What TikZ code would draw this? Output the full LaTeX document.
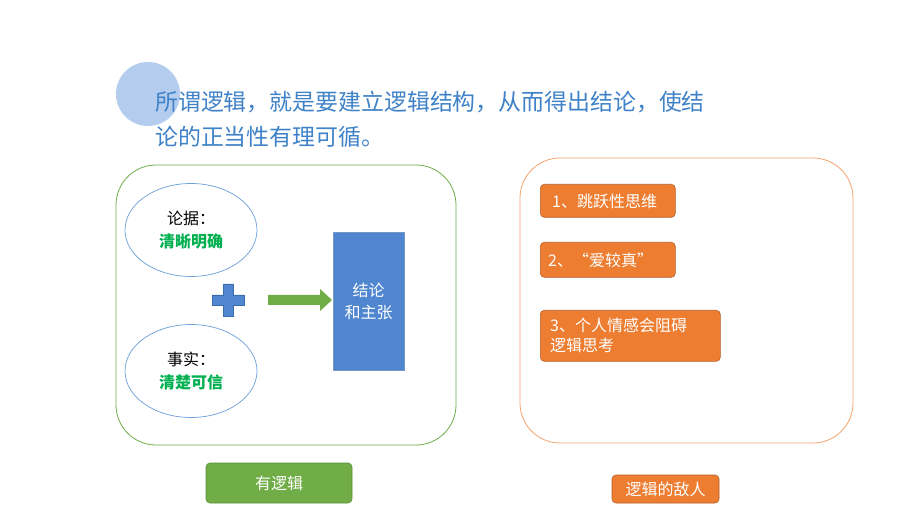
\documentclass[tikz,border=0pt]{standalone}
\usepackage{fontspec}
\setmainfont{Noto Sans CJK SC}
\usetikzlibrary{shapes.geometric,arrows.meta}
\definecolor{titleblue}{HTML}{3F82C8}
\definecolor{circblue}{HTML}{B4CDEE}
\definecolor{lgreen}{HTML}{70AD47}
\definecolor{tgreen}{HTML}{00B050}
\definecolor{eblue}{HTML}{6A9FD8}
\definecolor{rblue}{HTML}{4F86CF}
\definecolor{rbluedark}{HTML}{3A6CB0}
\definecolor{lorange}{HTML}{F4A46E}
\definecolor{forange}{HTML}{ED7D31}
\definecolor{dorange}{HTML}{B5602A}
\definecolor{dgreen}{HTML}{5A8E37}
\tikzset{
  oval/.style={draw=eblue, line width=0.7pt, ellipse, minimum width=132pt, minimum height=93pt, align=center, font=\fontsize{16}{23}\selectfont},
  obox/.style={draw=dorange, fill=forange, rounded corners=4pt, line width=0.6pt, text=white, font=\fontsize{16}{21}\selectfont, inner sep=0pt},
  otext/.style={anchor=west, text=white, font=\fontsize{16}{21}\selectfont, inner sep=0pt, align=left},
  frame/.style={rounded corners=40pt, line width=0.8pt},
}
\begin{document}
\begin{tikzpicture}[x=1pt,y=-1pt]
\useasboundingbox (0,0) rectangle (920,518);
\fill[white] (0,0) rectangle (920,518);
% decorative circle
\fill[circblue] (148,94) circle (32);
% title
\node[anchor=west, text=titleblue, font=\fontsize{22.9}{35}\selectfont, align=left, inner sep=0pt] (title) at (155,119)
 {所谓逻辑，就是要建立逻辑结构，从而得出结论，使结\\论的正当性有理可循。};
% left frame
\draw[frame, draw=lgreen] (116,165) rectangle (456,445);
\node[oval] (e1) at (191,230) {论据：\\\textcolor{tgreen}{\bfseries 清晰明确}};
\node[oval] (e2) at (191,371) {事实：\\\textcolor{tgreen}{\bfseries 清楚可信}};
% plus
\fill[rblue, draw=rbluedark, line width=0.5pt]
  (223,284) -- (233,284) -- (233,295) -- (244,295) -- (244,305) -- (233,305) -- (233,316) -- (223,316) -- (223,305) -- (212,305) -- (212,295) -- (223,295) -- cycle;
% conclusion box
\node[draw=rbluedark!70, fill=rblue, line width=0.5pt, minimum width=71pt, minimum height=138pt, text=white, align=center, font=\fontsize{16}{22}\selectfont, inner sep=0pt] (concl) at (368.5,301) {结论\\和主张};
% arrow
\fill[lgreen] (268,295) -- (320,295) -- (320,289) -- (332,300) -- (320,311) -- (320,305) -- (268,305) -- cycle;
% right frame
\draw[frame, draw=lorange] (520,158) rectangle (853,443);
\node[obox, minimum width=135pt, minimum height=33pt, anchor=north west] (b1) at (540,184) {};
\node[otext] at (552,201) {1、跳跃性思维};
\node[obox, minimum width=135pt, minimum height=35pt, anchor=north west] (b2) at (540,242) {};
\node[otext] at (548,260) {2、“爱较真”};
\node[obox, minimum width=180pt, minimum height=51pt, anchor=north west] (b3) at (540,310) {};
\node[otext, font=\fontsize{16}{20}\selectfont] at (550,335) {3、个人情感会阻碍\\逻辑思考};
% bottom labels
\node[draw=dgreen, fill=lgreen, rounded corners=4pt, line width=0.6pt, minimum width=146pt, minimum height=40pt, text=white, font=\fontsize{16}{21}\selectfont, inner sep=0pt] (lab1) at (279,483) {有逻辑};
\node[obox, minimum width=107pt, minimum height=28pt] (lab2) at (665.5,489) {逻辑的敌人};
\end{tikzpicture}
\end{document}
